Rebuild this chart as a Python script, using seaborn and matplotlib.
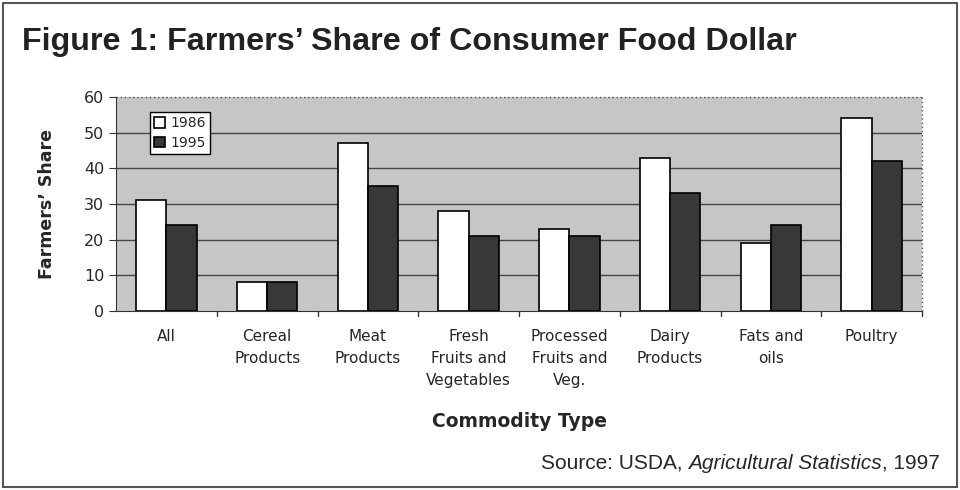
import matplotlib
matplotlib.use("Agg")
import matplotlib.pyplot as plt
import seaborn as sns
import pandas as pd
from matplotlib.patches import Rectangle

categories = ["All", "Cereal\nProducts", "Meat\nProducts", "Fresh\nFruits and\nVegetables",
              "Processed\nFruits and\nVeg.", "Dairy\nProducts", "Fats and\noils", "Poultry"]
share_1986 = [31, 8, 47, 28, 23, 43, 19, 54]
share_1995 = [24, 8, 35, 21, 21, 33, 24, 42]
years = ["1986", "1995"]
yticks = [0, 10, 20, 30, 40, 50, 60]

df = pd.DataFrame({
    "Commodity": categories * 2,
    "Share": share_1986 + share_1995,
    "Year": [years[0]] * len(categories) + [years[1]] * len(categories),
})

sns.set_style("white")
plt.rcParams["font.family"] = ["DejaVu Sans"]

fig = plt.figure(figsize=(9.6, 4.9), dpi=100)
ax = fig.add_axes([116/960, 1-311/490, (922-116)/960, (311-97)/490])

ax.set_facecolor("#c6c6c6")
sns.barplot(data=df, x="Commodity", y="Share", hue="Year", order=categories,
            palette={"1986": "white", "1995": "#383838"}, edgecolor="black",
            linewidth=1.2, width=0.6, ax=ax, zorder=3, saturation=1)

ax.set_ylim(0, 60)
ax.set_xlim(-0.5, len(categories) - 0.5)
ax.set_yticks(yticks)
ax.set_yticklabels([str(v) for v in yticks], fontsize=11.5)
for v in yticks[1:-1]:
    ax.axhline(v, color="#444444", lw=1.0, zorder=1)

for s in ["top", "right"]:
    ax.spines[s].set_visible(False)
ax.spines["left"].set_color("#333333")
ax.spines["bottom"].set_color("#333333")
ax.plot([-0.5, 7.5], [60, 60], ls=(0, (1, 2)), color="#555555", lw=1, clip_on=False)
ax.plot([7.5, 7.5], [0, 60], ls=(0, (1, 2)), color="#555555", lw=1, clip_on=False)

ax.set_xticks(range(len(categories)))
ax.set_xticklabels(categories, fontsize=11, linespacing=1.6, va="top")
ax.tick_params(axis="x", length=0, pad=13)
ax.tick_params(axis="y", length=5, direction="out", color="#333333", left=True)
for b in [0.5 + i for i in range(len(categories) - 1)] + [7.5]:
    ax.plot([b, b], [0, -1.5], color="#333333", lw=1, clip_on=False)

ax.set_xlabel("Commodity Type", fontsize=13.5, fontweight="bold", labelpad=17)
ax.set_ylabel("Farmers’ Share", fontsize=12.5, fontweight="bold", labelpad=20)

leg = ax.legend(loc="upper left", bbox_to_anchor=(0.042, 0.93), borderaxespad=0,
                frameon=True, fancybox=False,
                edgecolor="black", fontsize=10, handlelength=0.8, handleheight=0.8,
                handletextpad=0.4, borderpad=0.3, labelspacing=0.4)
leg.get_frame().set_linewidth(1.0)
leg.get_frame().set_alpha(1)
leg.set_zorder(5)

fig.text(22/960, 1-42/490, "Figure 1: Farmers’ Share of Consumer Food Dollar",
         fontsize=23.2, fontweight="bold", family="Liberation Sans", va="center", color="#222222")

t1 = fig.text(541/960, 1-463/490, "Source: USDA, ", fontsize=15, family="Liberation Sans", va="center")
t2 = ax.annotate("Agricultural Statistics", xy=(1, 0), xycoords=t1, va="bottom", ha="left",
                 fontsize=15, family="Liberation Sans", style="italic")
t3 = ax.annotate(", 1997", xy=(1, 0), xycoords=t2, va="bottom", ha="left",
                 fontsize=15, family="Liberation Sans")

fig.patches.append(Rectangle((3/960, 3/490), 954/960, 484/490, transform=fig.transFigure,
                             fill=False, edgecolor="#555555", lw=1.5))

fig.savefig("out.png", dpi=100)
